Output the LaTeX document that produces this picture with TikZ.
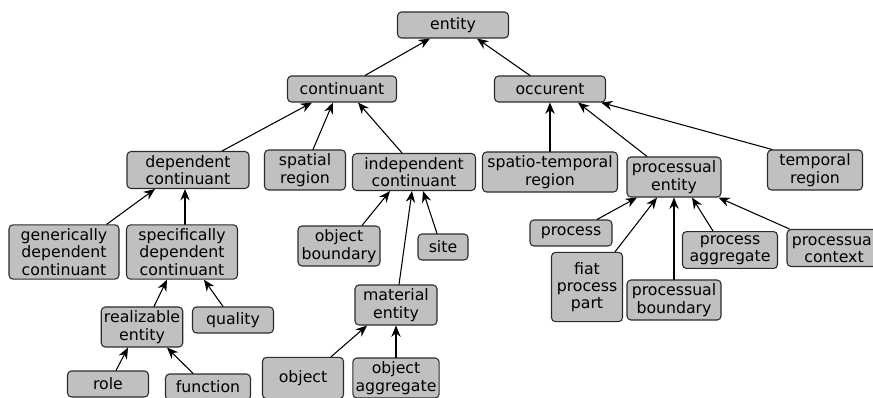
\documentclass[tikz,border=0pt]{standalone}
\usepackage{fontspec}
\setmainfont{DejaVu Sans}
\usetikzlibrary{arrows.meta}
\definecolor{boxfill}{HTML}{C0C0C0}
\definecolor{boxline}{HTML}{2B2B2B}
\begin{document}
\begin{tikzpicture}[x=0.75pt,y=-0.75pt,line cap=round,line join=round,
  font=\fontsize{11.8}{13}\selectfont,
  term/.style={draw=boxline,fill=boxfill,line width=0.8pt,rounded corners=3pt,
    align=center,inner xsep=2pt,inner ysep=2.8pt,minimum height=19.5pt,minimum width=#1},
  term/.default=61pt,
  isa/.style={-{Stealth[length=8.5pt,width=7pt]},line width=0.8pt}]
  \useasboundingbox (0,0) rectangle (873,397);
  \clip (0,0) rectangle (873,397);
  % top levels
  \node[term=83.25pt] (entity) at (453,25) {entity};
  \node[term=81.75pt] (cont) at (342,89) {continuant};
  \node[term=83.25pt] (occ) at (550,89) {occurent};
  % continuant side
  \node[term=91.5pt] (depcont) at (188,170) {dependent\\continuant};
  \node[term=60.75pt] (spreg) at (305,170) {spatial\\region};
  \node[term=92.25pt] (indcont) at (414,172) {independent\\continuant};
  \node[term=82.5pt] (gdc) at (64,252) {generically\\dependent\\continuant};
  \node[term=83.25pt] (sdc) at (182,252) {specifically\\dependent\\continuant};
  \node[term=60.75pt] (real) at (142,327) {realizable\\entity};
  \node[term=60.75pt] (qual) at (233,320) {quality};
  \node[term=60.75pt] (role) at (108,384) {role};
  \node[term=63.75pt] (func) at (208,387) {function};
  \node[term=61.5pt] (objbd) at (339,246) {object\\boundary};
  \node[term=37.5pt] (site) at (443,247) {site};
  \node[term=61.5pt] (mat) at (396,305) {material\\entity};
  \node[term=60.75pt,minimum height=31pt] (obj) at (303,378) {object};
  \node[term=61.5pt] (objagg) at (396,378) {object\\aggregate};
  % occurent side
  \node[term=101.25pt] (streg) at (550,172) {spatio-temporal\\region};
  \node[term=70.5pt] (procent) at (674,177) {processual\\entity};
  \node[term=71.25pt] (treg) at (815,170) {temporal\\region};
  \node[term=61.5pt] (proc) at (571,233) {process};
  \node[term=53.25pt,minimum height=52pt] (fiat) at (587,287) {fiat\\process\\part};
  \node[term=70.5pt] (procbd) at (674,300) {processual\\boundary};
  \node[term=71.25pt] (procagg) at (730,250) {process\\aggregate};
  \node[term=70.5pt] (procctx) at (834,248) {processual\\context};
  % is-a links
  \draw[isa] ([xshift=17.25pt]cont.north) -- ([xshift=-17.25pt]entity.south);
  \draw[isa] ([xshift=-15pt]occ.north) -- ([xshift=18pt]entity.south);
  \draw[isa] ([xshift=25.5pt]depcont.north) -- ([xshift=-22.5pt]cont.south);
  \draw[isa] ([xshift=6pt]spreg.north) -- ([xshift=-6.75pt]cont.south);
  \draw[isa] ([xshift=-9pt]indcont.north) -- ([xshift=12pt]cont.south);
  \draw[isa] (streg.north) -- (occ.south);
  \draw[isa] ([xshift=-20.25pt]procent.north) -- ([xshift=21pt]occ.south);
  \draw[isa] ([xshift=3.75pt]treg.north west) -- ([xshift=-3.75pt]occ.south east);
  \draw[isa] ([xshift=32pt]gdc.north) -- ([xshift=-24.75pt]depcont.south);
  \draw[isa] ([xshift=2.25pt]sdc.north) -- ([xshift=-2.25pt]depcont.south);
  \draw[isa] ([xshift=9pt]real.north) -- ([xshift=-11.25pt]sdc.south);
  \draw[isa] ([xshift=-7.5pt]qual.north) -- ([xshift=16.5pt]sdc.south);
  \draw[isa] ([xshift=6pt]role.north) -- ([xshift=-10.5pt]real.south);
  \draw[isa] ([xshift=-11.25pt]func.north) -- ([xshift=18.75pt]real.south);
  \draw[isa] ([xshift=17.25pt]objbd.north) -- ([xshift=-18pt]indcont.south);
  \draw[isa] ([xshift=2.25pt]mat.north) -- ([xshift=-1.5pt]indcont.south);
  \draw[isa] ([xshift=-4.5pt]site.north) -- ([xshift=6.75pt]indcont.south);
  \draw[isa] ([xshift=21pt]obj.north) -- ([xshift=-21.75pt]mat.south);
  \draw[isa] (objagg.north) -- (mat.south);
  \draw[isa] ([xshift=19.5pt]proc.north) -- ([xshift=-27.75pt]procent.south);
  \draw[isa] ([xshift=21pt]fiat.north) -- ([xshift=-12.75pt]procent.south);
  \draw[isa] (procbd.north) -- (procent.south);
  \draw[isa] ([xshift=-12.75pt]procagg.north) -- ([xshift=13.5pt]procent.south);
  \draw[isa] ([xshift=2.25pt]procctx.north west) -- ([xshift=-2.25pt]procent.south east);
\end{tikzpicture}
\end{document}
